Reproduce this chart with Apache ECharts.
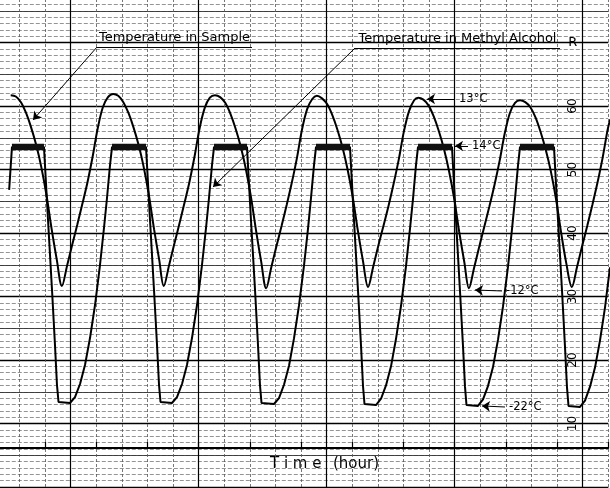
<!DOCTYPE html>
<html><head><meta charset="utf-8">
<script src="https://cdn.jsdelivr.net/npm/echarts@6/dist/echarts.min.js"></script>
<style>html,body{margin:0;padding:0;background:#fff}#c{width:610px;height:488px}</style>
</head><body><div id="c"></div>
<script>
// Time in hours, recorder scale in chart units (0-80, "R" at 70)
const sampleT = [-0.67,-0.57,-0.47,-0.37,-0.27,-0.17,-0.07,0.03,0.13,0.23,0.33,
  0.43,0.53,0.63,0.73,0.83,0.93,1.03,1.13,1.23,1.33,1.43,1.53,1.63,1.73,1.83,1.93,2.03,2.13,2.23,2.32,
  2.42,2.52,2.62,2.72,2.82,2.92,3.02,3.12,3.22,3.32,3.42,3.52,3.62,3.72,3.82,3.92,4.02,4.12,4.22,4.32,
  4.42,4.52,4.62,4.72,4.82,4.92,5.02,5.12,5.22,5.31,5.41,5.51,5.61,5.71,5.81,5.91,6.01,6.11,6.21,6.31,
  6.41,6.51,6.61,6.71,6.81,6.91,7.01,7.11,7.21,7.29,7.39,7.49,7.59,7.69,7.79,7.89,7.99,8.09,8.19,8.28,
  8.38,8.48,8.58,8.68,8.78,8.88,8.98,9.08,9.18,9.28,9.38,9.48,9.58,9.68,9.78,9.88,9.98,10.08,10.18,10.29,
  10.39,10.49,10.59,10.69,10.79,10.89,10.99,11.04];
const sampleV = [61.7,61.5,60.6,58.9,56.6,53.8,50.3,45.9,40.6,35.8,31.65,
  34.8,38.1,41.3,44.6,48.0,52.0,56.5,59.8,61.4,61.9,61.6,60.6,58.9,56.6,53.8,50.3,45.9,40.6,35.8,31.65,
  34.8,38.1,41.3,44.6,48.0,52.0,56.5,59.7,61.3,61.7,61.4,60.5,58.8,56.5,53.7,50.2,45.8,40.5,35.6,31.3,
  34.6,37.9,41.1,44.4,47.9,51.8,56.3,59.5,61.1,61.6,61.2,60.3,58.6,56.3,53.5,50.0,45.7,40.4,35.6,31.5,
  34.7,38.0,41.1,44.3,47.8,51.6,56.0,59.2,60.9,61.3,61.0,60.1,58.4,56.1,53.3,49.8,45.5,40.2,35.4,31.3,
  34.5,37.8,41.0,44.2,47.6,51.4,55.7,58.9,60.5,60.9,60.6,59.8,58.2,55.9,53.1,49.7,45.4,40.1,35.3,31.5,
  34.6,37.9,41.1,44.4,47.9,51.8,56.3,57.9];

const alcoholT = [-0.70,-0.645,-0.02,0.059,0.137,0.195,0.234,0.264,0.488,0.586,0.684,0.781,0.879,0.977,1.074,1.152,1.211,1.270,1.309,
  1.973,2.051,2.129,2.188,2.227,2.256,2.480,2.578,2.676,2.773,2.871,2.969,3.066,3.145,3.203,3.262,3.301,
  3.945,4.023,4.102,4.160,4.199,4.229,4.473,4.570,4.668,4.766,4.863,4.961,5.059,5.137,5.195,5.254,5.293,
  5.957,6.035,6.113,6.172,6.211,6.240,6.465,6.563,6.660,6.758,6.855,6.953,7.051,7.129,7.188,7.246,7.285,
  7.949,8.027,8.105,8.164,8.203,8.232,8.457,8.555,8.652,8.750,8.848,8.945,9.043,9.121,9.180,9.238,9.277,
  9.941,10.020,10.098,10.156,10.195,10.225,10.449,10.547,10.645,10.742,10.840,10.938,11.035];
const alcoholV = [46.8,53.54,53.54,42.05,31.02,22.36,16.06,13.39,13.23,14.17,16.22,19.21,23.46,28.66,34.96,40.79,45.51,50.71,53.54,
  53.54,42.05,31.02,22.36,16.06,13.39,13.23,14.17,16.22,19.21,23.46,28.66,34.96,40.79,45.51,50.71,53.54,
  53.54,42.05,31.02,22.36,16.0,13.23,13.07,14.0,16.1,19.1,23.4,28.6,34.9,40.7,45.5,50.7,53.54,
  53.54,42.0,31.0,22.3,15.9,13.07,12.91,13.9,16.0,19.0,23.3,28.5,34.8,40.7,45.4,50.7,53.54,
  53.54,42.0,30.9,22.2,15.8,12.91,12.76,13.8,15.9,18.9,23.2,28.4,34.7,40.6,45.4,50.6,53.54,
  53.54,42.0,30.9,22.1,15.7,12.76,12.6,13.6,15.8,18.8,23.1,28.3,34.6];

const scaleValues = [10,20,30,40,50,60];
const scaleLabels = ['10','20','30','40','50','60'];
const rangeMark = {t:10.31, v:70, text:'R'};

const seriesNames = ['Temperature in Sample','Temperature in Methyl Alcohol'];
// annotation arrows: from (T1,V1) to arrow tip (T2,V2)
const noteT1 = [8.008, 8.262, 8.926, 8.984];
const noteV1 = [61.10, 53.70, 30.87, 12.60];
const noteT2 = [7.461, 8.008, 8.398, 8.535];
const noteV2 = [61.10, 53.70, 31.02, 12.76];
const noteText = ['13°C', '14°C', '-12°C', '-22°C'];

const FONT = 'DejaVu Sans';
const sampleData = sampleT.map((t,i)=>[t, sampleV[i]]);
const alcoholData = alcoholT.map((t,i)=>[t, alcoholV[i]]);
const plateauData = alcoholT.map((t,i)=> alcoholV[i] >= 53 ? [t, alcoholV[i]] : [t, null]);

const chart = echarts.init(document.getElementById('c'), null, {renderer:'canvas'});
function hideAxis(o){ return Object.assign({axisLine:{show:false},axisTick:{show:false},axisLabel:{show:false}}, o); }

const arrowLines = noteT1.map((t,i)=>[
  {coord:[t, noteV1[i]], symbol:'none', label:{show:true, position:'start', formatter:noteText[i], distance:4, color:'#000', fontFamily:FONT, fontSize:11.5}},
  {coord:[noteT2[i], noteV2[i]], symbol:'arrow', symbolSize:8}
]);
const titleLines = [
  [{coord:[1.016,69.29], symbol:'none', label:{show:true, position:'insideMiddleTop', formatter:seriesNames[0], distance:3, color:'#000', fontFamily:FONT, fontSize:13}},
   {coord:[4.043,69.29], symbol:'none'}],
  [{coord:[1.016,69.29], symbol:'none', label:{show:false}}, {coord:[-0.234,57.8], symbol:'arrow', symbolSize:8}],
  [{coord:[6.055,69.13], symbol:'none', label:{show:true, position:'insideMiddleTop', formatter:seriesNames[1], distance:3, color:'#000', fontFamily:FONT, fontSize:13}},
   {coord:[10.059,69.13], symbol:'none'}],
  [{coord:[6.055,69.13], symbol:'none', label:{show:false}}, {coord:[3.281,47.24], symbol:'arrow', symbolSize:8}]
];

chart.setOption({
  animation:false,
  backgroundColor:'#fff',
  grid:[{left:-6.2, width:614.4, top:-21, height:508, outerBoundsMode:'none', containLabel:false},
        {left:-6.2, width:614.4, top:440, height:8, outerBoundsMode:'none', containLabel:false}],
  xAxis:[
    hideAxis({type:'value', min:-1, max:11, interval:0.5, gridIndex:0,
      splitLine:{show:true, lineStyle:{color:'#555', width:0.8, type:[3,2]}}}),
    hideAxis({type:'value', min:-1, max:11, interval:0.5, gridIndex:0,
      splitLine:{show:true, lineStyle:{color:['transparent','transparent','transparent','#000','transparent'], width:1.2}}}),
    {type:'value', min:-1, max:11, interval:1, gridIndex:1,
      axisLine:{show:true, onZero:false, lineStyle:{color:'#000', width:2}},
      axisTick:{show:true, inside:true, length:6, lineStyle:{color:'#000', width:1.2}},
      axisLabel:{show:false}, splitLine:{show:false}}
  ],
  yAxis:[
    hideAxis({type:'value', min:0, max:80, interval:1, gridIndex:0,
      splitLine:{show:true, lineStyle:{color:'#666', width:0.7, type:[4,2]}}}),
    hideAxis({type:'value', min:0, max:80, interval:5, gridIndex:0,
      splitLine:{show:true, lineStyle:{color:'#333', width:0.9}}}),
    {type:'value', min:0, max:80, interval:10, gridIndex:0, position:'right',
      axisLine:{show:false}, axisTick:{show:false},
      splitLine:{show:true, lineStyle:{color:'#000', width:1.3}},
      axisLabel:{show:true, inside:true, rotate:90, margin:29, color:'#000', fontFamily:FONT, fontSize:12,
        formatter:v=>{const i=scaleValues.indexOf(v); return i>=0?scaleLabels[i]:'';}}},
    hideAxis({type:'value', min:0, max:1, gridIndex:1, splitLine:{show:false}})
  ],
  series:[
    {name:seriesNames[0], type:'line', xAxisIndex:0, yAxisIndex:0, data:sampleData, smooth:0.35,
      showSymbol:false, lineStyle:{color:'#000', width:2}, silent:true,
      markLine:{silent:true, animation:false, symbol:['none','arrow'],
        lineStyle:{color:'#000', width:1, type:'solid'}, emphasis:{disabled:true},
        data: titleLines.concat(arrowLines)},
      markPoint:{silent:true, symbol:'circle', symbolSize:0,
        label:{show:true, position:'inside', color:'#000', fontFamily:FONT, fontSize:13, formatter:rangeMark.text},
        data:[{coord:[rangeMark.t, rangeMark.v]}]}},
    {name:seriesNames[1], type:'line', xAxisIndex:0, yAxisIndex:0, data:alcoholData, smooth:false,
      showSymbol:false, lineStyle:{color:'#000', width:2}, silent:true},
    {name:seriesNames[1]+' plateau', type:'line', xAxisIndex:0, yAxisIndex:0, data:plateauData, connectNulls:false,
      showSymbol:false, lineStyle:{color:'#111', width:6.5, cap:'butt'}, silent:true}
  ],
  graphic:[
    {type:'text', left:270, top:457, style:{text:'T i m e', font:'15px "DejaVu Sans"', fill:'#000'}},
    {type:'text', left:333, top:457, style:{text:'(hour)', font:'15px "DejaVu Sans"', fill:'#000'}}
  ]
});
</script></body></html>
